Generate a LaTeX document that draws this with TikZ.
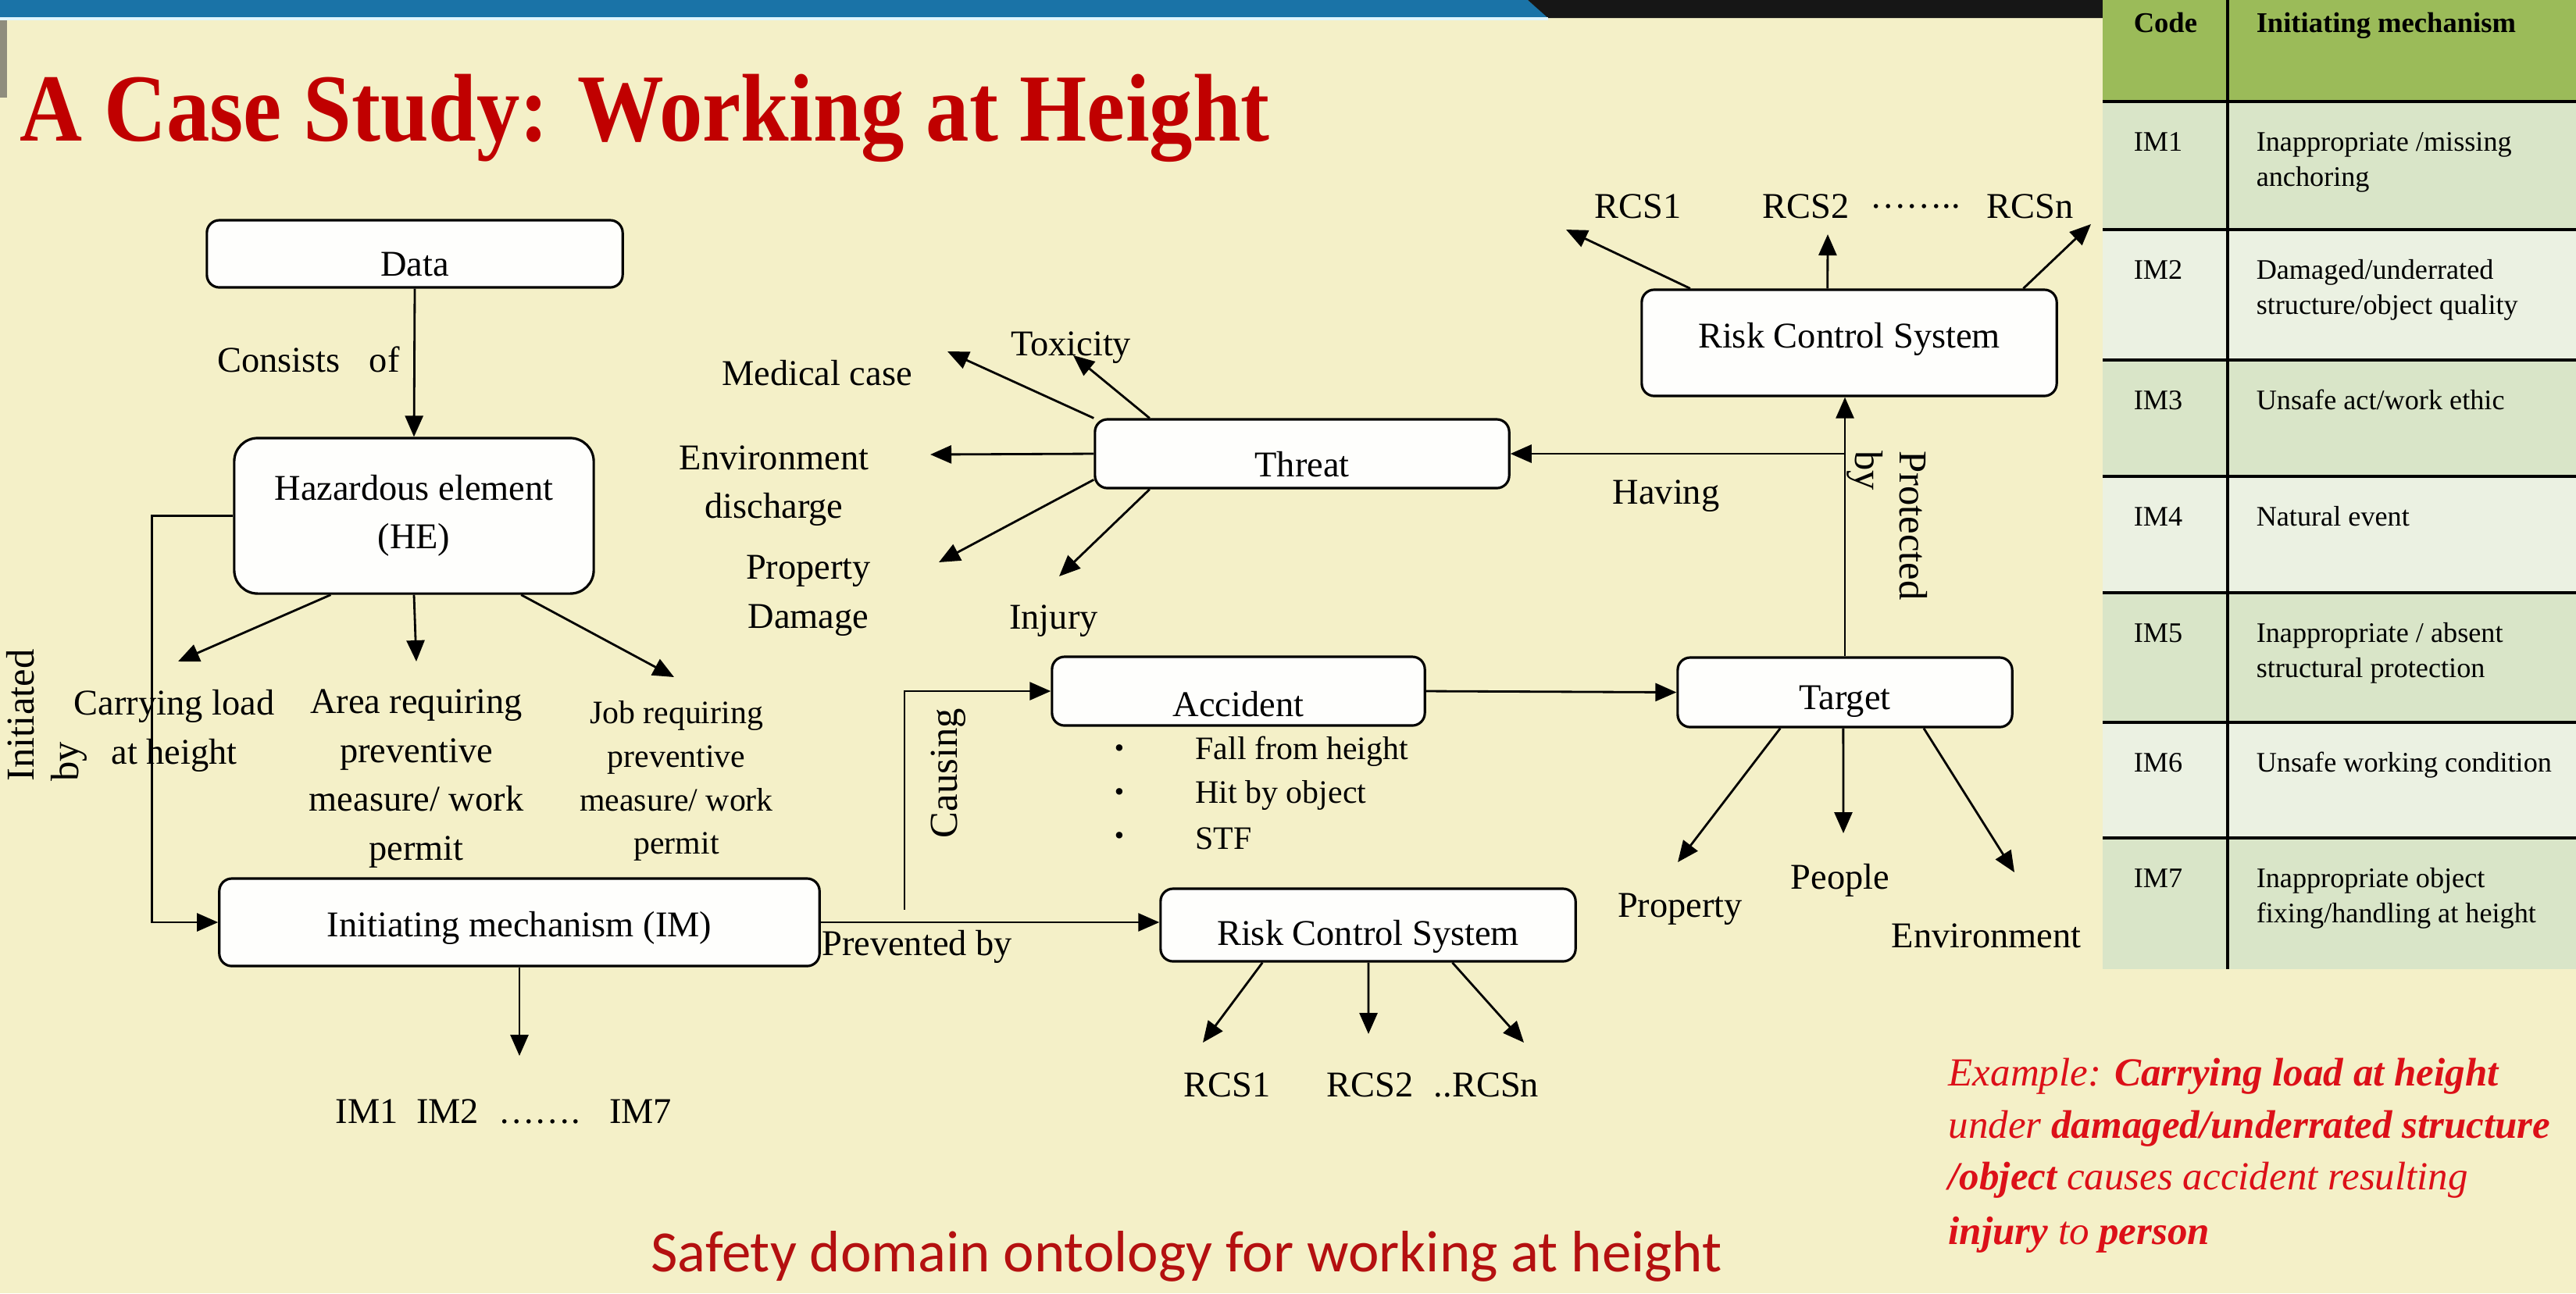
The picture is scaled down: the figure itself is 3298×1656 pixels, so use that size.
\documentclass[tikz,border=0pt]{standalone}
\usepackage{fontspec}
\setmainfont{Liberation Serif}
\newfontfamily\capfont{Carlito}
\usetikzlibrary{arrows.meta,calc}
\definecolor{slide}{HTML}{F4F0C8}
\definecolor{barblue}{HTML}{1A73A7}
\definecolor{barblack}{HTML}{161616}
\definecolor{titlered}{HTML}{C00000}
\definecolor{capred}{HTML}{B41010}
\definecolor{exred}{HTML}{DC1018}
\definecolor{hdrgreen}{HTML}{9BBB59}
\definecolor{rowdark}{HTML}{D9E5C8}
\definecolor{rowlight}{HTML}{EBF1E2}
\definecolor{boxfill}{HTML}{FEFEFC}

\begin{document}
\begin{tikzpicture}[x=0.01cm,y=-0.01cm,
  box/.style={draw, line width=0.9pt, fill=boxfill, rounded corners=0.16cm, inner sep=0pt},
  lbl/.style={font=\fontsize{13.2}{17.8}\selectfont, inner sep=0pt, align=center},
  small/.style={font=\fontsize{11.9}{15.9}\selectfont, inner sep=0pt, align=center},
  side/.style={font=\fontsize{14.4}{16}\selectfont, inner sep=0pt, align=left},
  arr/.style={line width=0.8pt, -{Triangle[length=0.27cm,width=0.23cm]}},
  cell/.style={font=\fontsize{10.3}{12.8}\selectfont, inner sep=0pt, anchor=base west},
  head/.style={font=\bfseries\fontsize{10.4}{12.8}\selectfont, inner sep=0pt, anchor=base west},
  exline/.style={font=\itshape\fontsize{14.5}{19}\selectfont, text=exred, inner sep=0pt, anchor=base west},
]
% slide background
\fill[slide] (0,0) rectangle (3298,1656);
\useasboundingbox (0,0) rectangle (3298,1656);

% header bar
\fill[barblue] (0,0) -- (1956,0) -- (1982,22) -- (0,22) -- cycle;
\fill[barblack] (1956,0) -- (2692,0) -- (2692,23) -- (1982,23) -- cycle;
\fill[cyan!12!white] (0,22) rectangle (1982,26);
\fill[black!70, opacity=0.6] (0,26) rectangle (9,125);

% title
\node[anchor=base west, inner sep=0pt, text=titlered,
      font=\bfseries\fontsize{35}{40}\selectfont] (title) at (25,180)
  {\scalebox{0.9}[1]{A Case Study: Working at Height}};

% code table
\fill[hdrgreen] (2692,0) rectangle (3298,130);
\fill[rowdark]  (2692,130) rectangle (3298,294);
\fill[rowlight] (2692,294) rectangle (3298,461);
\fill[rowdark]  (2692,461) rectangle (3298,610);
\fill[rowlight] (2692,610) rectangle (3298,759);
\fill[rowdark]  (2692,759) rectangle (3298,925);
\fill[rowlight] (2692,925) rectangle (3298,1073);
\fill[rowdark]  (2692,1073) rectangle (3298,1241);
\foreach \yy in {130,294,461,610,759,925,1073}
  \draw[line width=1.1pt] (2692,\yy) -- (3298,\yy);
\draw[line width=0.9pt] (2852,0) -- (2852,1241);

\node[head] (hcode) at (2731,41) {Code};
\node[head] (hmech) at (2888,41) {Initiating mechanism};
\node[cell] (c1) at (2731,193) {IM1};
\node[cell] (d1a) at (2888,193) {Inappropriate /missing};
\node[cell] (d1b) at (2888,238) {anchoring};
\node[cell] (c2) at (2731,357) {IM2};
\node[cell] (d2a) at (2888,357) {Damaged/underrated};
\node[cell] (d2b) at (2888,402) {structure/object quality};
\node[cell] (c3) at (2731,524) {IM3};
\node[cell] (d3a) at (2888,524) {Unsafe act/work ethic};
\node[cell] (c4) at (2731,673) {IM4};
\node[cell] (d4a) at (2888,673) {Natural event};
\node[cell] (c5) at (2731,822) {IM5};
\node[cell] (d5a) at (2888,822) {Inappropriate / absent};
\node[cell] (d5b) at (2888,867) {structural protection};
\node[cell] (c6) at (2731,988) {IM6};
\node[cell] (d6a) at (2888,988) {Unsafe working condition};
\node[cell] (c7) at (2731,1136) {IM7};
\node[cell] (d7a) at (2888,1136) {Inappropriate object};
\node[cell] (d7b) at (2888,1181) {fixing/handling at height};

% concept boxes
\node[box, minimum width=5.32cm, minimum height=0.86cm] (data) at (531,325) {};
\node[box, rounded corners=0.3cm, minimum width=4.6cm, minimum height=1.99cm] (he) at (530,660.5) {};
\node[box, minimum width=7.68cm, minimum height=1.12cm] (im) at (665,1181) {};
\node[box, minimum width=5.3cm, minimum height=0.88cm] (thr) at (1667,581) {};
\node[box, minimum width=4.77cm, minimum height=0.88cm] (acc) at (1585.5,885) {};
\node[box, minimum width=5.31cm, minimum height=0.93cm] (rcsL) at (1751.5,1184.5) {};
\node[box, minimum width=4.28cm, minimum height=0.89cm] (tgt) at (2362,886.5) {};
\node[box, minimum width=5.31cm, minimum height=1.36cm] (rcsU) at (2367.5,439) {};

\node[lbl] (dataT) at ($(data.center)+(0,14)$) {Data};
\node[lbl] (heT) at (he.center) {Hazardous element\\(HE)};
\node[lbl] (imT) at ($(im.center)+(0,7)$) {Initiating mechanism (IM)};
\node[lbl] (thrT) at ($(thr.center)+(0,14)$) {Threat};
\node[lbl] (accT) at ($(acc.center)+(0,17)$) {Accident};
\node[lbl] (rcsLT) at ($(rcsL.center)+(0,15)$) {Risk Control System};
\node[lbl] (tgtT) at ($(tgt.center)+(0,12)$) {Target};
\node[lbl] (rcsUT) at ($(rcsU.center)+(0,-5)$) {Risk Control System};

% free ends of connectors
\coordinate (heA) at (228,847);
\coordinate (heB) at (533,847);
\coordinate (heC) at (863,867);
\coordinate (imE) at (665,1352);
\coordinate (medE) at (1213,450);
\coordinate (toxE) at (1374,455);
\coordinate (envE) at (1191,582);
\coordinate (propE) at (1202,720);
\coordinate (injE) at (1356,738);
\coordinate (causeS) at (1158,1165);
\coordinate (rlA) at (1540,1335);
\coordinate (rlB) at (1752,1324);
\coordinate (rlC) at (1951,1335);
\coordinate (ruA) at (2005,294);
\coordinate (ruB) at (2340,300);
\coordinate (ruC) at (2677,287);
\coordinate (tA) at (2148,1104);
\coordinate (tB) at (2360,1067);
\coordinate (tC) at (2579,1117);

% connectors
\draw[arr] (data.south) -- (he.north);
\draw[arr] ($(he.south west)!0.27!(he.south east)$) -- (heA);
\draw[arr] ($(he.south west)!0.5!(he.south east)$) -- (heB);
\draw[arr] ($(he.south west)!0.796!(he.south east)$) -- (heC);
\draw[arr] (he.west) -- ++(-104,0) |- (im.west);
\draw[arr] (im.south) -- (imE);
\draw[arr] (im.east) -- (im.east -| rcsL.west);
\draw[arr] (causeS) |- (acc.west);
\draw[arr] (acc.east) -- (tgt.west);
\draw[arr] (tgt.north) -- (tgt.north |- rcsU.south);
\draw[arr] (tgt.north |- thr.east) -- (thr.east);

\draw[arr] (thr.north west) -- (medE);
\draw[arr] ($(thr.north west)!0.134!(thr.north east)$) -- (toxE);
\draw[arr] (thr.west) -- (envE);
\draw[arr] ($(thr.west)!0.73!(thr.south west)$) -- (propE);
\draw[arr] ($(thr.south west)!0.134!(thr.south east)$) -- (injE);

\draw[arr] ($(rcsL.south west)!0.247!(rcsL.south east)$) -- (rlA);
\draw[arr] ($(rcsL.south west)!0.501!(rcsL.south east)$) -- (rlB);
\draw[arr] ($(rcsL.south west)!0.702!(rcsL.south east)$) -- (rlC);

\draw[arr] ($(rcsU.north west)!0.119!(rcsU.north east)$) -- (ruA);
\draw[arr] ($(rcsU.north west)!0.448!(rcsU.north east)$) -- (ruB);
\draw[arr] ($(rcsU.north west)!0.917!(rcsU.north east)$) -- (ruC);

\draw[arr] ($(tgt.south west)!0.308!(tgt.south east)$) -- (tA);
\draw[arr] ($(tgt.south west)!0.495!(tgt.south east)$) -- (tB);
\draw[arr] ($(tgt.south west)!0.734!(tgt.south east)$) -- (tC);

% labels
\node[lbl] (consists) at (395,460) {Consists\hspace{0.8em}of};
\node[lbl] (carry) at (223,936) {Carrying load\\at height};
\node[lbl] (area) at (533,997) {Area requiring\\preventive\\measure/ work\\permit};
\node[small] (job) at (866,1000) {Job requiring\\preventive\\measure/ work\\permit};
\node[side, rotate=90] (initby) at (60,916) {Initiated\\by};
\node[lbl] (imlist) at (645,1423) {IM1\hspace{0.5em}IM2\hspace{0.55em}…….\hspace{0.8em}IM7};

\node[lbl] (med) at (1046,478) {Medical case};
\node[lbl] (tox) at (1371,445) {Toxicity};
\node[lbl] (env) at (991,622) {Environment\\discharge};
\node[lbl] (prop) at (1035,763) {Property\\Damage};
\node[lbl] (inj) at (1349,795) {Injury};

\node[side, rotate=90] (causing) at (1214,990) {Causing};
\node[font=\fontsize{10}{12}\selectfont, inner sep=0pt] (b1) at (1433,962) {\textbullet};
\node[font=\fontsize{10}{12}\selectfont, inner sep=0pt] (b2) at (1433,1018) {\textbullet};
\node[font=\fontsize{10}{12}\selectfont, inner sep=0pt] (b3) at (1433,1074) {\textbullet};
\node[small, anchor=west] (fall) at (1530,962) {Fall from height};
\node[small, anchor=west] (hit) at (1530,1018) {Hit by object};
\node[small, anchor=west] (stf) at (1530,1074) {STF};

\node[lbl] (prevby) at (1174,1212) {Prevented by};
\node[lbl] (rl1) at (1571,1389) {RCS1};
\node[lbl] (rl2) at (1754,1389) {RCS2};
\node[lbl] (rl3) at (1903,1389) {..RCSn};

\node[lbl] (ru1) at (2097,264) {RCS1};
\node[lbl] (ru2) at (2312,264) {RCS2};
\node[lbl] (rudots) at (2452,264) {……..};
\node[lbl] (ru3) at (2599,264) {RCSn};

\node[lbl] (having) at (2133,635) {Having};
\node[side, rotate=-90] (protby) at (2416,673) {Protected\\by};

\node[lbl] (tprop) at (2151,1164) {Property};
\node[lbl] (tpeople) at (2356,1127) {People};
\node[lbl] (tenv) at (2543,1198) {Environment};

% worked example
\node[exline] (ex1) at (2494,1390) {Example: \textbf{Carrying load at height}};
\node[exline] (ex2) at (2494,1457) {under \textbf{damaged/underrated structure}};
\node[exline] (ex3) at (2494,1523) {\textbf{/object} causes accident resulting};
\node[exline] (ex4) at (2494,1593) {\textbf{injury} to \textbf{person}};

% caption
\node[anchor=base, inner sep=0pt, text=capred,
      font=\capfont\fontsize{21.3}{26}\selectfont] (caption) at (1519,1628)
  {Safety domain ontology for working at height};
\end{tikzpicture}
\end{document}
